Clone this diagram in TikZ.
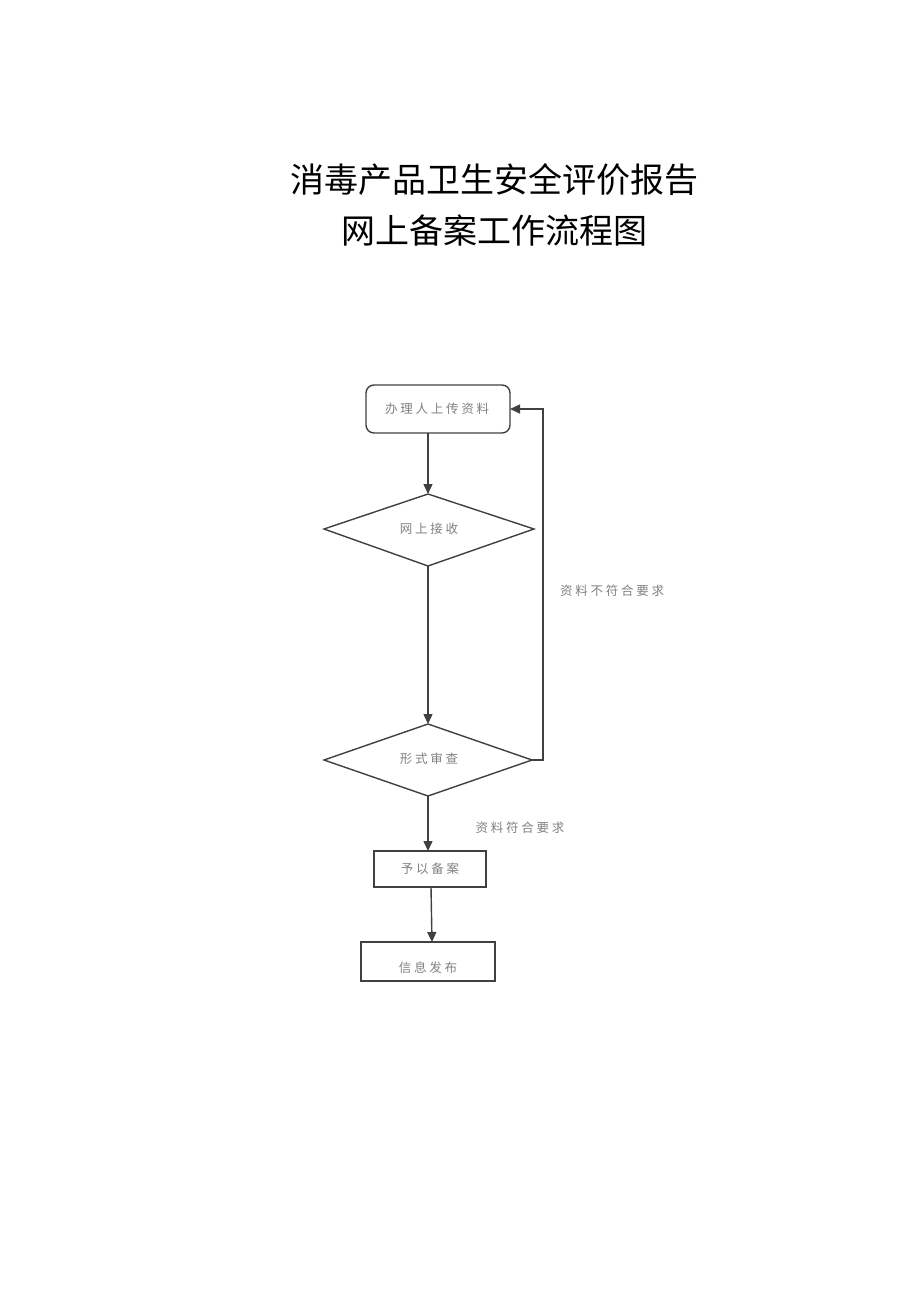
\documentclass[tikz,border=0pt]{standalone}
\usepackage{fontspec}
\usetikzlibrary{arrows.meta,shapes.geometric}
\newfontfamily\cjk{Noto Sans CJK SC}
\newfontfamily\cjkls[LetterSpace=22]{Noto Sans CJK SC}
\begin{document}
\begin{tikzpicture}[x=1pt,y=-1pt,
  line/.style={draw=black!75,line width=1.4pt},
  arr/.style={line,-{Triangle[length=10pt,width=9pt]}},
  lbl/.style={font=\cjkls\fontsize{12.5}{14}\selectfont,text=black!50},
  title/.style={font=\cjk\fontsize{34}{38}\selectfont},
]
\useasboundingbox (0,0) rectangle (920,1301);
\node[title] (t1) at (494,180) {消毒产品卫生安全评价报告};
\node[title] (t2) at (494,230) {网上备案工作流程图};

\draw[line,rounded corners=8pt] (366,385) rectangle (510,433);
\node[lbl] (b1) at (437,409) {办理人上传资料};
\coordinate (b1s) at (428,433);
\coordinate (b1e) at (510,409);

\draw[line] (324,529) -- (428,494) -- (534,529) -- (428,566) -- cycle;
\node[lbl] (d1) at (429,529) {网上接收};
\coordinate (d1n) at (428,494);
\coordinate (d1s) at (428,566);

\draw[line] (324,760) -- (428,724) -- (532,760) -- (428,796) -- cycle;
\node[lbl] (d2) at (429,759) {形式审查};
\coordinate (d2n) at (428,724);
\coordinate (d2s) at (428,796);
\coordinate (d2e) at (532,760);

\draw[line] (374,851) rectangle (486,887);
\node[lbl] (b3) at (430,869) {予以备案};
\coordinate (b3n) at (428,851);
\coordinate (b3s) at (431,887);

\draw[line] (361,942) rectangle (495,981);
\node[lbl] (b4) at (428,968) {信息发布};
\coordinate (b4n) at (432,942);

\draw[arr] (b1s) -- (d1n);
\draw[arr] (d1s) -- (d2n);
\draw[arr] (d2e) -- (543,760) -- (543,409) -- (b1e);
\draw[arr] (d2s) -- (b3n);
\draw[arr] (b3s) -- (b4n);

\node[lbl] (n1) at (612,591) {资料不符合要求};
\node[lbl] (n2) at (520,828) {资料符合要求};
\end{tikzpicture}
\end{document}
